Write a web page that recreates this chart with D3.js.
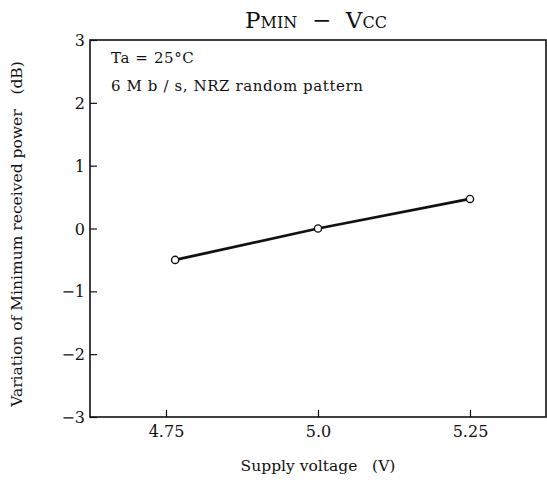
<!DOCTYPE html>
<html><head><meta charset="utf-8">
<script src="https://cdn.jsdelivr.net/npm/d3@7"></script>
<style>body{margin:0;background:#fff}svg{display:block}text{font-family:"DejaVu Serif","Liberation Serif",serif;fill:#111}</style>
</head><body><div id="c"></div>
<script>
const xValues = [4.765, 5.0, 5.25];
const yValues = [-0.5, 0.0, 0.47];
const xTicks = [4.75, 5.0, 5.25];
const xTickLabels = ["4.75", "5.0", "5.25"];
const yTicks = [-3, -2, -1, 0, 1, 2, 3];
const yTickLabels = ["\u22123", "\u22122", "\u22121", "0", "1", "2", "3"];
const notes = ["Ta = 25\u00B0C", "6 M b / s, NRZ random pattern"];

const W = 547, H = 482;
const m = {left: 90, top: 40, right: 1, bottom: 65};
const svg = d3.select("#c").append("svg").attr("width", W).attr("height", H);
const x = d3.scaleLinear().domain([4.625, 5.375]).range([m.left, W - m.right]);
const y = d3.scaleLinear().domain([-3, 3]).range([H - m.bottom, m.top]);

// frame
svg.append("rect").attr("x", m.left).attr("y", m.top)
  .attr("width", W - m.right - m.left).attr("height", H - m.bottom - m.top)
  .attr("fill", "none").attr("stroke", "#111").attr("stroke-width", 1.6);

const xAxis = svg.append("g").attr("transform", `translate(0,${H - m.bottom})`)
  .call(d3.axisBottom(x).tickValues(xTicks).tickSize(-7).tickPadding(9)
    .tickFormat((d, i) => xTickLabels[i]));
const yAxis = svg.append("g").attr("transform", `translate(${m.left},0)`)
  .call(d3.axisLeft(y).tickValues(yTicks).tickSize(-7).tickPadding(5)
    .tickFormat((d, i) => yTickLabels[i]));
[xAxis, yAxis].forEach(g => {
  g.select(".domain").remove();
  g.selectAll(".tick line").attr("stroke", "#111").attr("stroke-width", 1.2);
  g.selectAll(".tick text").attr("font-size", 16).attr("font-family", "DejaVu Serif, serif").attr("fill", "#111");
});
yAxis.selectAll(".tick text").attr("dy", "0.35em");

// line
const pts = xValues.map((v, i) => [v, yValues[i]]);
svg.append("path").datum(pts)
  .attr("d", d3.line().x(d => x(d[0])).y(d => y(d[1])))
  .attr("fill", "none").attr("stroke", "#111").attr("stroke-width", 2.8);
svg.selectAll("circle.pt").data(pts).join("circle").attr("class", "pt")
  .attr("cx", d => x(d[0])).attr("cy", d => y(d[1])).attr("r", 3.6)
  .attr("fill", "#fff").attr("stroke", "#111").attr("stroke-width", 1.4);

// notes
notes.forEach((t, i) => svg.append("text").attr("x", 111).attr("y", 63 + i * 28)
  .attr("font-size", 15).attr("letter-spacing", 0.6).style("white-space", "pre").text(t));

// title
const title = svg.append("text").attr("x", 316).attr("y", 28).attr("text-anchor", "middle").attr("font-size", 23)
  .style("white-space", "pre");
title.append("tspan").text("P");
title.append("tspan").attr("font-size", 16).text("MIN");
title.append("tspan").text("  \u2212  V");
title.append("tspan").attr("font-size", 16).text("CC");

// axis labels
svg.append("text").attr("x", 318).attr("y", 471).attr("text-anchor", "middle")
  .attr("font-size", 15.5).style("white-space", "pre").text("Supply voltage   (V)");
svg.append("text").attr("transform", "translate(22,234) rotate(-90)").attr("text-anchor", "middle")
  .attr("font-size", 15.5).style("white-space", "pre").text("Variation of Minimum received power   (dB)");
</script></body></html>
